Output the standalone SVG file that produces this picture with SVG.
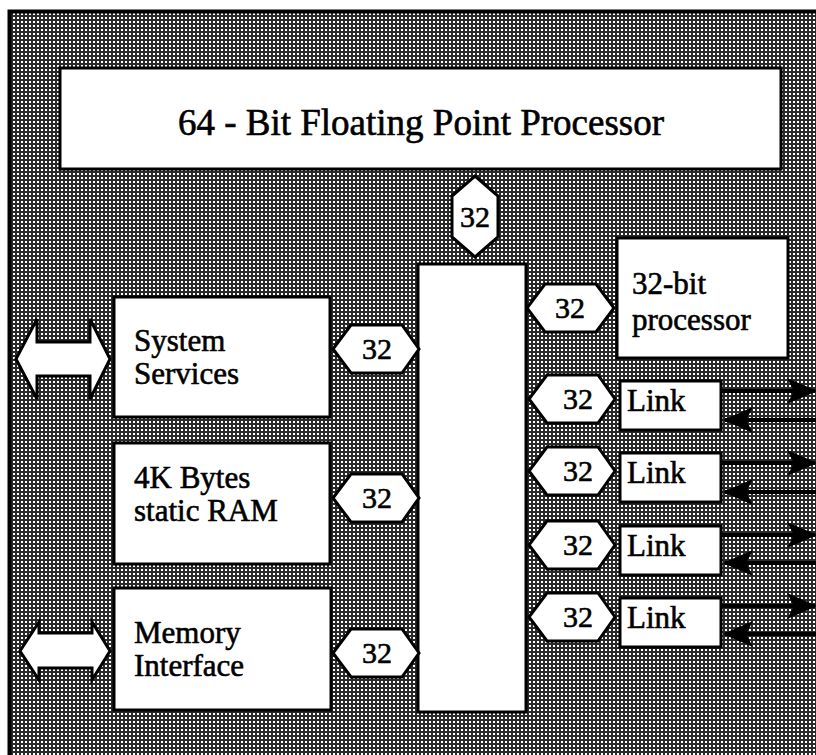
<svg xmlns="http://www.w3.org/2000/svg" width="816" height="755" viewBox="0 0 816 755">
  <defs>
    <!-- halftone fill of the chip panel -->
    <pattern id="dots" width="4" height="4" patternUnits="userSpaceOnUse">
      <rect width="4" height="4" fill="#2a2a2a"/>
      <rect x="1" y="1" width="2" height="2" fill="#ffffff"/>
    </pattern>
    <marker id="barb" viewBox="0 0 30 26" refX="28" refY="13" markerWidth="30" markerHeight="26" markerUnits="userSpaceOnUse" orient="auto">
      <path d="M0,0 L30,13 L0,26 L7,13 Z" fill="#000"/>
    </marker>
  </defs>
  <style>
    .box { fill: #fff; stroke: #000; stroke-width: 3; }
    .hex { fill: #fff; stroke: #000; stroke-width: 3; stroke-linejoin: miter; }
    .dbl { fill: #fff; stroke: #000; stroke-width: 3; stroke-linejoin: miter; }
    .t { font-family: "Liberation Serif", "Times New Roman", serif; fill: #000; stroke: #000; stroke-width: 0.6; }
    .lbl { font-size: 31px; }
    .num { font-size: 30px; text-anchor: middle; }
    .wire { stroke: #000; stroke-width: 4; fill: none; marker-end: url(#barb); }
  </style>

  <rect width="816" height="755" fill="#fff"/>
  <!-- chip outline -->
  <rect x="9.5" y="11.5" width="820" height="760" fill="url(#dots)" stroke="#000" stroke-width="4"/>

  <g id="fpu">
    <rect class="box" x="60" y="68" width="721" height="101"/>
    <text class="t" x="421" y="135" font-size="37" text-anchor="middle">64 - Bit Floating Point Processor</text>
  </g>

  <g id="bus">
    <rect class="box" x="418" y="264" width="108" height="448"/>
  </g>

  <g id="cpu">
    <rect class="box" x="617" y="238" width="171" height="120"/>
    <text class="t lbl" x="632" y="294">32-bit</text>
    <text class="t lbl" x="632" y="330">processor</text>
  </g>

  <g id="system-services">
    <rect class="box" x="114" y="297" width="216" height="120"/>
    <text class="t lbl" x="134" y="351">System</text>
    <text class="t lbl" x="134" y="384">Services</text>
  </g>

  <g id="ram">
    <rect class="box" x="114" y="443" width="216" height="121"/>
    <text class="t lbl" x="134" y="488">4K Bytes</text>
    <text class="t lbl" x="134" y="521">static RAM</text>
  </g>

  <g id="memory-interface">
    <rect class="box" x="114" y="588" width="217" height="122"/>
    <text class="t lbl" x="134" y="643">Memory</text>
    <text class="t lbl" x="134" y="676">Interface</text>
  </g>

  <g id="link-0">
    <rect class="box" x="620" y="381" width="101" height="49"/>
    <text class="t lbl" x="627" y="411">Link</text>
  </g>
  <g id="link-1">
    <rect class="box" x="620" y="453" width="101" height="49"/>
    <text class="t lbl" x="627" y="483">Link</text>
  </g>
  <g id="link-2">
    <rect class="box" x="620" y="526" width="101" height="49"/>
    <text class="t lbl" x="627" y="556">Link</text>
  </g>
  <g id="link-3">
    <rect class="box" x="620" y="598" width="101" height="49"/>
    <text class="t lbl" x="627" y="628">Link</text>
  </g>

  <g id="connectors">
    <!-- 32-bit bus width tags -->
    <g id="tag-fpu">
      <polygon class="hex" points="475,176 498,196 498,237 475,257 452,237 452,196"/>
      <text class="t num" x="475" y="227">32</text>
    </g>
    <g id="tag-cpu">
      <polygon class="hex" points="527,308 545,284 596,284 614,308 596,332 545,332"/>
      <text class="t num" x="570" y="318">32</text>
    </g>
    <g id="tag-sys">
      <polygon class="hex" points="333,349 351,325 402,325 419,349 402,373 351,373"/>
      <text class="t num" x="377" y="359">32</text>
    </g>
    <g id="tag-ram">
      <polygon class="hex" points="333,498 351,474 402,474 419,498 402,522 351,522"/>
      <text class="t num" x="377" y="508">32</text>
    </g>
    <g id="tag-mem">
      <polygon class="hex" points="333,653 351,629 402,629 419,653 402,677 351,677"/>
      <text class="t num" x="377" y="663">32</text>
    </g>
    <g id="tag-link0">
      <polygon class="hex" points="529,399 547,375 598,375 615,399 598,423 547,423"/>
      <text class="t num" x="578" y="409">32</text>
    </g>
    <g id="tag-link1">
      <polygon class="hex" points="529,471 547,447 598,447 615,471 598,495 547,495"/>
      <text class="t num" x="578" y="481">32</text>
    </g>
    <g id="tag-link2">
      <polygon class="hex" points="529,545 547,521 598,521 615,545 598,569 547,569"/>
      <text class="t num" x="578" y="555">32</text>
    </g>
    <g id="tag-link3">
      <polygon class="hex" points="529,617 547,593 598,593 615,617 598,641 547,641"/>
      <text class="t num" x="578" y="627">32</text>
    </g>

    <!-- external bidirectional ports -->
    <polygon class="dbl" points="16,359 37,319 37,342 90,342 90,319 110,359 90,399 90,376 37,376 37,399"/>
    <polygon class="dbl" points="20,651 39,622 39,633 92,633 92,622 110,651 92,680 92,668 39,668 39,680"/>

    <!-- serial link wires: out and in -->
    <line class="wire" x1="722" y1="391" x2="815" y2="391"/>
    <line class="wire" x1="816" y1="420" x2="725" y2="420"/>
    <line class="wire" x1="722" y1="463" x2="815" y2="463"/>
    <line class="wire" x1="816" y1="492" x2="725" y2="492"/>
    <line class="wire" x1="722" y1="535" x2="815" y2="535"/>
    <line class="wire" x1="816" y1="563" x2="725" y2="563"/>
    <line class="wire" x1="722" y1="606" x2="815" y2="606"/>
    <line class="wire" x1="816" y1="634" x2="725" y2="634"/>
  </g>
</svg>
